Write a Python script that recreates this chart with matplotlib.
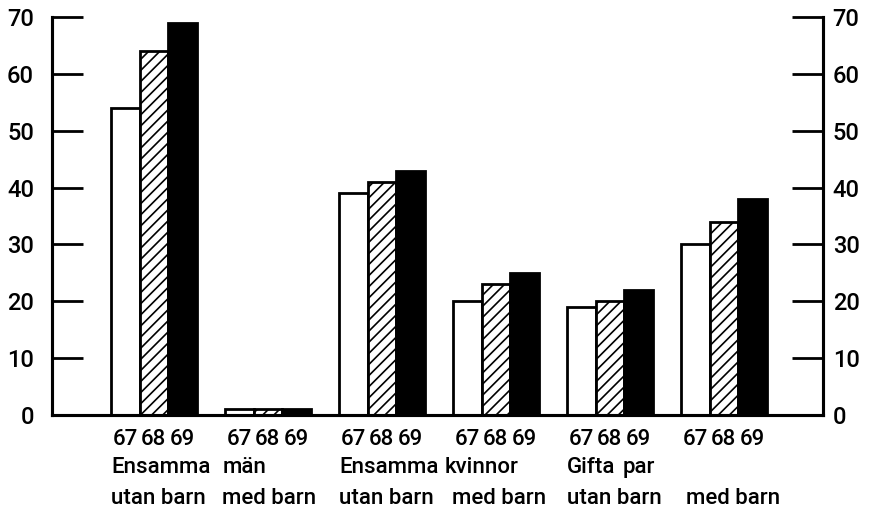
import matplotlib
matplotlib.use("Agg")
import matplotlib.pyplot as plt
import numpy as np

plt.rcParams['hatch.linewidth'] = 1.2
plt.rcParams['font.family'] = ['Roboto', 'DejaVu Sans']
plt.rcParams['font.weight'] = 'medium'

years = ["67", "68", "69"]
groups = ["Ensamma män utan barn", "Ensamma män med barn",
          "Ensamma kvinnor utan barn", "Ensamma kvinnor med barn",
          "Gifta par utan barn", "Gifta par med barn"]
v67 = [54, 1, 39, 20, 19, 30]
v68 = [64, 1, 41, 23, 20, 34]
v69 = [69, 1, 43, 25, 22, 38]
yticks = [0, 10, 20, 30, 40, 50, 60, 70]

fig = plt.figure(figsize=(8.73, 5.12), dpi=100)
ax = fig.add_axes([52/873, 1-415/512, (823-52)/873, (415-17)/512])

start = 2.07
gap = 4.0
lefts = np.array([start + gap*i for i in range(len(groups))])
styles = [dict(facecolor="white", hatch=None),
          dict(facecolor="white", hatch="///"),
          dict(facecolor="black", hatch=None)]
for j, vals in enumerate([v67, v68, v69]):
    ax.bar(lefts + j + 0.5, vals, width=1.0, edgecolor="black", linewidth=2,
           **styles[j], zorder=2)

ax.set_xlim(0, 27.05)
ax.set_ylim(0, 70)
xt = np.concatenate([lefts + j + 0.5 for j in range(3)])
xl = [years[j] for j in range(3) for _ in groups]
ax.set_xticks(xt)
ax.set_xticklabels(xl, fontsize=16)
ax.tick_params(axis='x', length=0, pad=10)

ax.set_yticks(yticks)
ax.tick_params(axis='y', direction='in', length=22, width=2, labelsize=17,
               pad=13, left=True, right=False, labelleft=True, labelright=False)

ax2 = ax.twinx()
ax2.set_ylim(0, 70)
ax2.set_yticks(yticks)
ax2.tick_params(axis='y', direction='in', length=22, width=2, labelsize=17,
                pad=7, right=True, labelright=True)

for a in (ax, ax2):
    a.spines['top'].set_visible(False)
    for s in ['left', 'right', 'bottom']:
        a.spines[s].set_linewidth(2.2)

tr = ax.get_xaxis_transform()
line1 = [("Ensamma", lefts[0]), ("män", lefts[1] - 0.1),
         ("Ensamma", lefts[2]), ("kvinnor", lefts[3] - 0.28),
         ("Gifta", lefts[4]), ("par", lefts[4] + 1.95)]
line2 = [("utan barn", lefts[0]), ("med barn", lefts[1] - 0.1),
         ("utan barn", lefts[2]), ("med barn", lefts[3] - 0.05),
         ("utan barn", lefts[4]), ("med barn", lefts[5] + 0.18)]
for t, x in line1:
    ax.text(x, -0.131, t, transform=tr, fontsize=16, ha="left", va="center")
for t, x in line2:
    ax.text(x, -0.21, t, transform=tr, fontsize=16, ha="left", va="center")

fig.savefig("out.png", dpi=100)
